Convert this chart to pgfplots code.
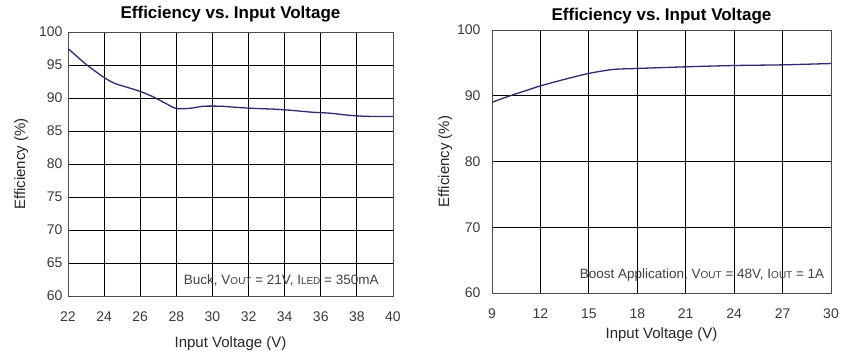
\documentclass[border=0pt]{standalone}
\usepackage{pgfplots}
\pgfplotsset{compat=1.18}
\usepackage{fontspec}
\setmainfont{Liberation Sans}
\definecolor{curve}{HTML}{2E2A6E}
\definecolor{ticktxt}{HTML}{3A3A3A}
\begin{document}
\begin{tikzpicture}
\path[use as bounding box] (0pt,0pt) rectangle (852pt,353pt);
\pgfplotsset{
  effstyle/.style={
    scale only axis,
    anchor=south west,
    grid=major,
    major grid style={black, line width=0.9pt},
    axis line style={black!70, line width=0.9pt},
    major tick length=0pt,
    tick label style={font=\fontsize{14}{15}\selectfont, text=ticktxt},
    label style={font=\fontsize{15}{17}\selectfont, text=black!85},
    title style={font=\fontsize{17}{19}\selectfont\bfseries},
    /pgf/number format/assume math mode=true,
    ylabel={Efficiency (\%)},
    xlabel={Input Voltage (V)},
    title={Efficiency vs.\ Input Voltage},
  }
}
\begin{axis}[effstyle,
  at={(68pt,57pt)}, width=325pt, height=264pt,
  xmin=22, xmax=40, ymin=60, ymax=100,
  xtick={22,24,...,40}, ytick={60,65,...,100},
  xticklabel style={yshift=-12pt},
  yticklabel style={xshift=-2pt},
  title style={yshift=0pt},
  xlabel style={yshift=-8pt},
  ylabel style={yshift=4pt},
]
\addplot[curve, line width=1.3pt, smooth, tension=0.4] coordinates {
(22,97.5) (23,95.1) (24,93.1) (24.6,92.2) (25.3,91.6) (26,91.0) (26.7,90.2) (27.4,89.2) (28,88.4) (28.8,88.45) (29.5,88.75) (30.5,88.75) (31.5,88.55) (32.5,88.4) (33.5,88.3) (34.5,88.1) (35.5,87.85) (36.5,87.7) (37.5,87.4) (38.3,87.25) (39,87.2) (40,87.2)
};
\node[anchor=south east, font=\fontsize{13.5}{15}\selectfont, text=black!75] at (axis cs:39.4,60.9)
  {Buck, V{\fontsize{10}{11}\selectfont OUT} = 21V, I{\fontsize{10}{11}\selectfont LED} = 350mA};
\end{axis}
\begin{axis}[effstyle,
  at={(492pt,60pt)}, width=339pt, height=263pt,
  xmin=9, xmax=30, ymin=60, ymax=100,
  xtick={9,12,...,30}, ytick={60,70,...,100},
  xticklabel style={yshift=-12pt},
  yticklabel style={xshift=-8pt},
  title style={yshift=-4pt},
  xlabel style={yshift=-2pt},
  ylabel style={yshift=-2pt},
]
\addplot[curve, line width=1.3pt, smooth, tension=0.4] coordinates {
(9,89.0) (10,89.9) (11,90.7) (12,91.5) (13.5,92.5) (15,93.4) (16.5,94.0) (18,94.15) (21,94.4) (24,94.6) (27,94.7) (30,94.9)
};
\node[anchor=south east, font=\fontsize{13.5}{15}\selectfont, text=black!75] at (axis cs:29.8,61.3)
  {Boost Application, V{\fontsize{10}{11}\selectfont OUT} = 48V, I{\fontsize{10}{11}\selectfont OUT} = 1A};
\end{axis}
\end{tikzpicture}
\end{document}
